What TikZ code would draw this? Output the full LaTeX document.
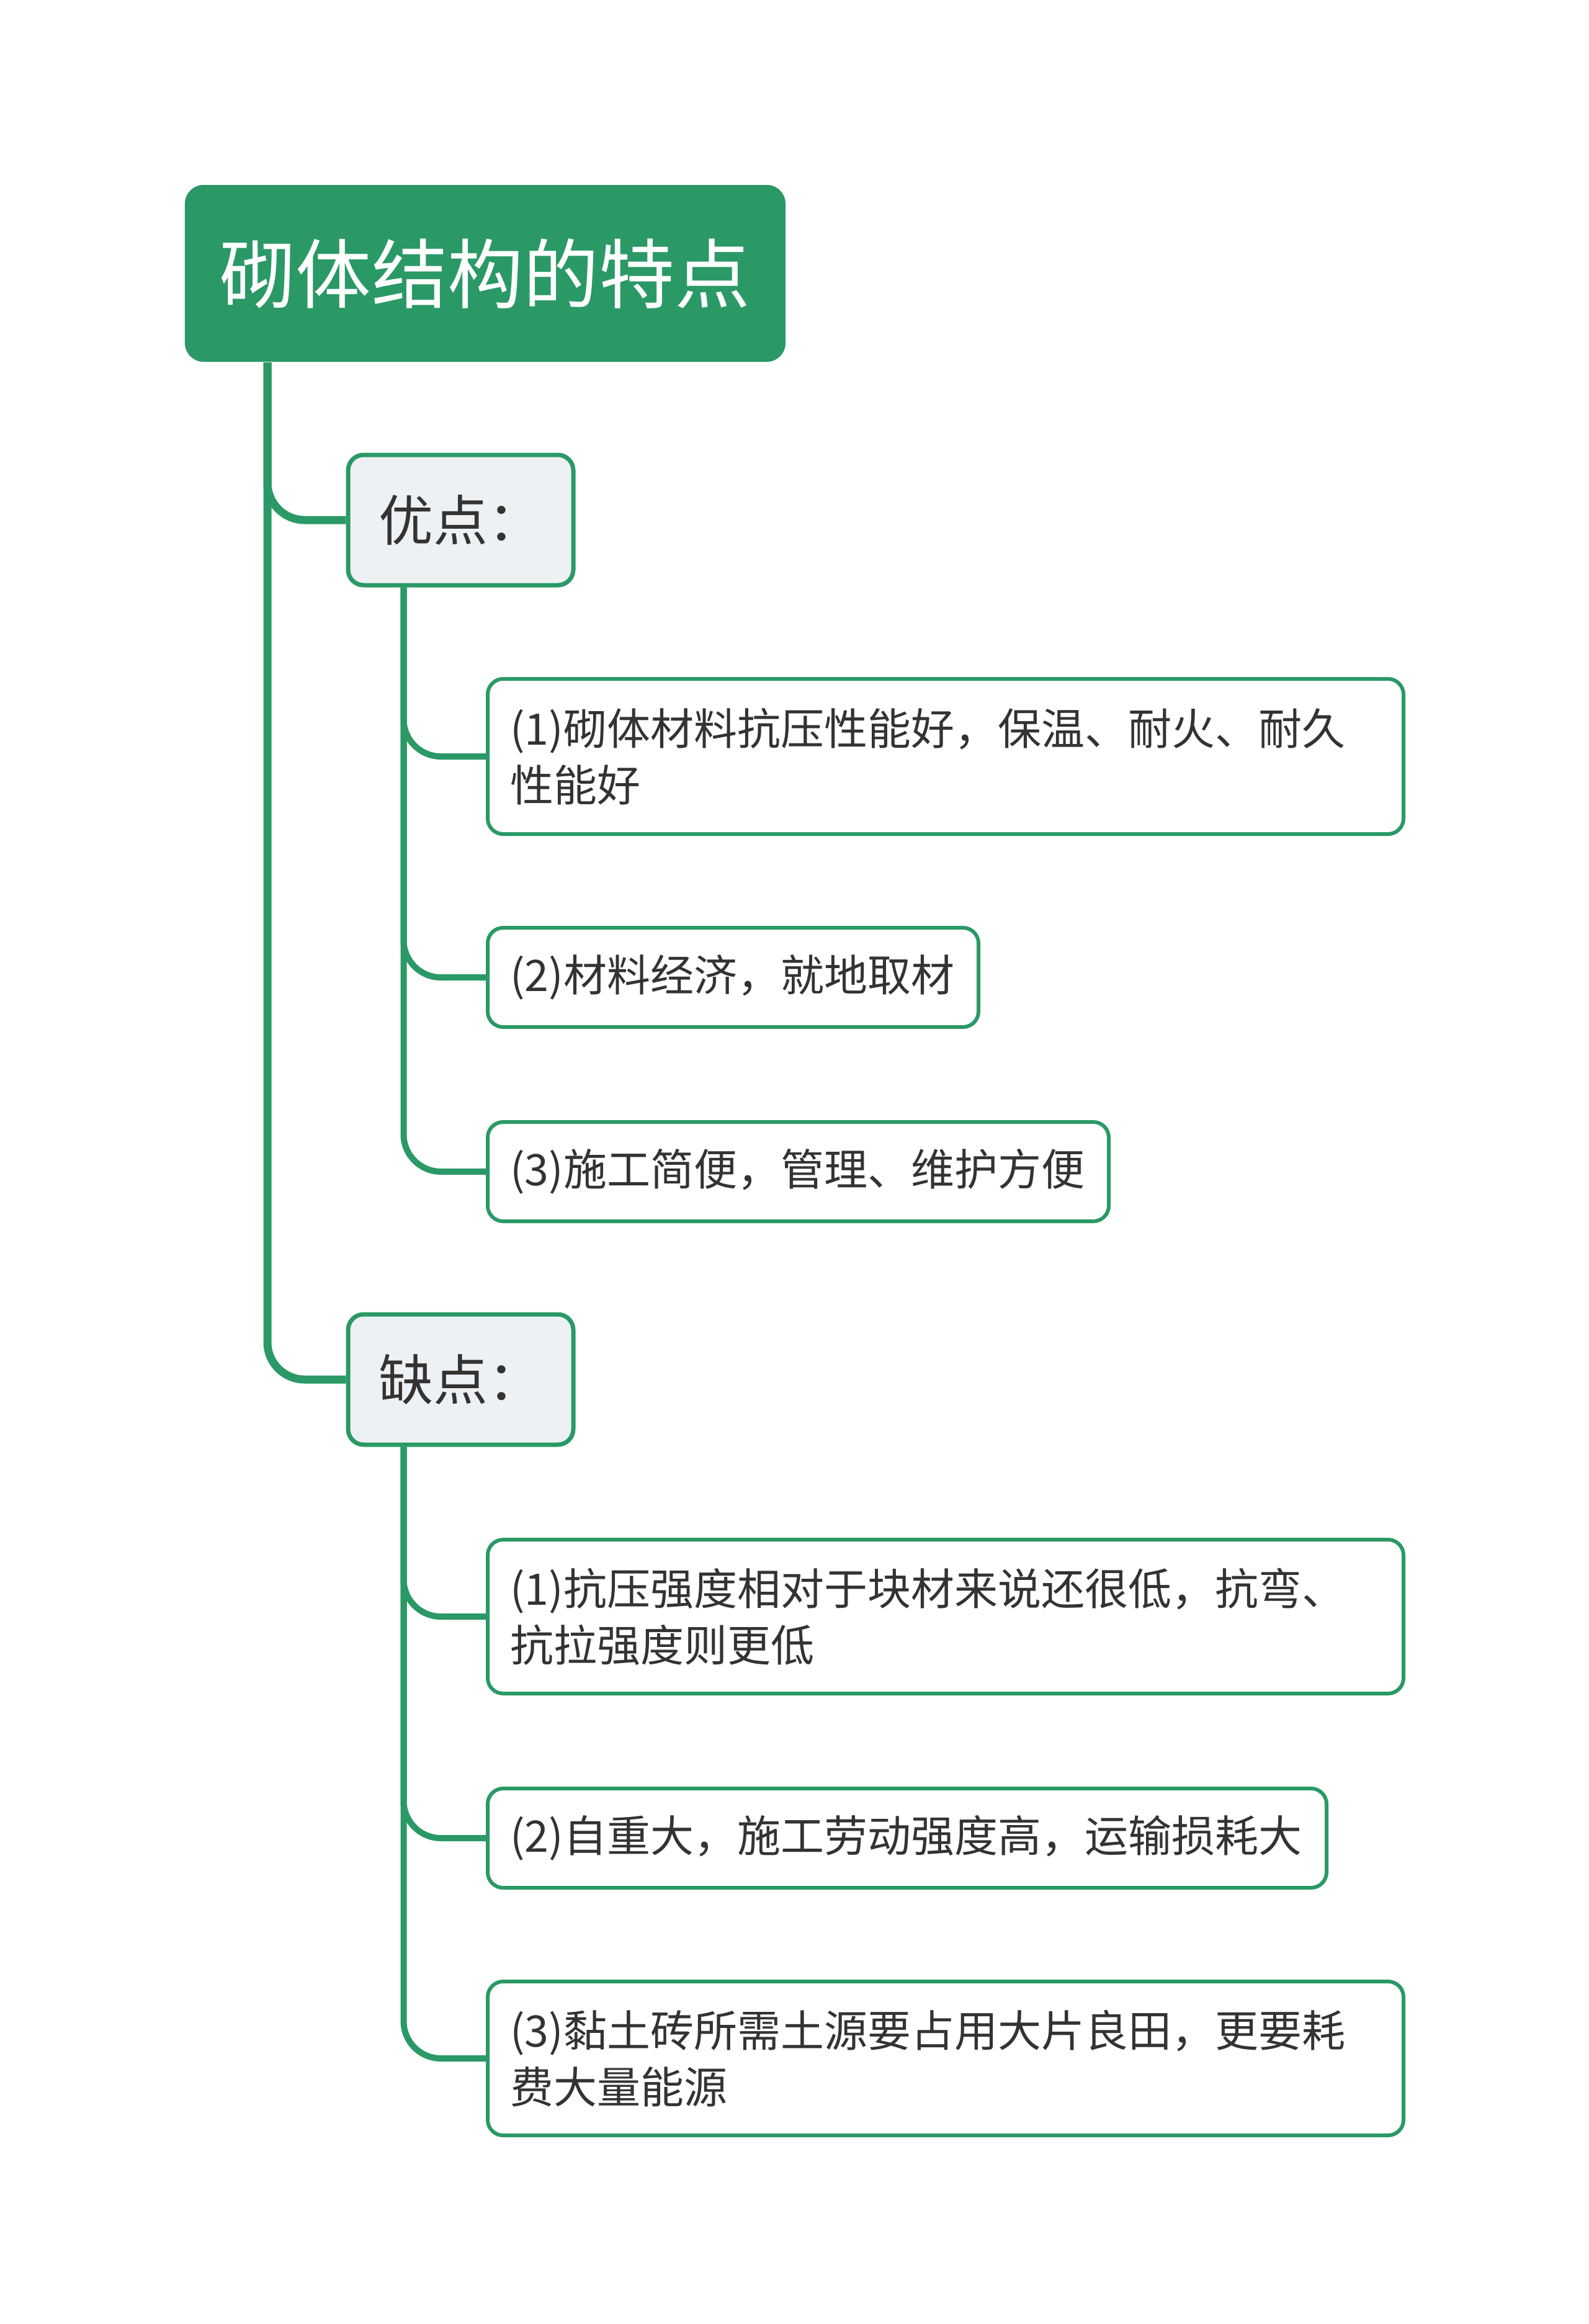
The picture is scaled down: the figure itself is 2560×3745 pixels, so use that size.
\documentclass[tikz,border=0pt]{standalone}
\usepackage{fontspec}
\setmainfont{Noto Sans CJK SC}
\usetikzlibrary{backgrounds}
\definecolor{mgreen}{HTML}{2A9966}
\definecolor{lgray}{HTML}{EEF1F4}
\definecolor{tgray}{HTML}{333333}
\begin{document}
\begin{tikzpicture}[x=0.2pt,y=-0.2pt,
  rootbox/.style={fill=mgreen, rounded corners=6pt, text=white,
    font=\fontsize{24.4}{30}\selectfont, minimum width=193.6pt, minimum height=57pt, inner sep=0pt},
  catbox/.style={fill=lgray, draw=mgreen, line width=1.4pt, rounded corners=5pt, text=tgray,
    font=\fontsize{17.6}{21}\selectfont, minimum width=72.6pt, minimum height=42pt, inner sep=0pt},
  leafbox/.style={fill=white, draw=mgreen, line width=1.2pt, rounded corners=5pt, text=tgray,
    font=\fontsize{14}{18.2}\selectfont, align=left, inner xsep=7.2pt, inner ysep=0pt,
    minimum height=32pt, anchor=west},
  trunk/.style={draw=mgreen, line width=2.6pt, rounded corners=12pt},
  branch/.style={draw=mgreen, line width=2pt, rounded corners=12pt}]
\useasboundingbox (0,0) rectangle (2560,3745);

\node[rootbox] (root) at (782,440.5) {砌体结构的特点};
\node[catbox] (yd) at (742.5,838) {优点：};
\node[catbox] (qd) at (742.5,2223) {缺点：};

\node[leafbox, text width=280.8pt, minimum height=50pt] (a1) at (783,1219) {(1)砌体材料抗压性能好，保温、耐火、耐久\\性能好};
\node[leafbox, text width=143.8pt] (a2) at (783,1575) {(2)材料经济，就地取材};
\node[leafbox, text width=185.8pt] (a3) at (783,1888) {(3)施工简便，管理、维护方便};

\node[leafbox, text width=280.8pt, minimum height=49.6pt] (b1) at (783,2605) {(1)抗压强度相对于块材来说还很低，抗弯、\\抗拉强度则更低};
\node[leafbox, text width=256pt] (b2) at (783,2962) {(2)自重大，施工劳动强度高，运输损耗大};
\node[leafbox, text width=280.8pt, minimum height=49.6pt] (b3) at (783,3317) {(3)黏土砖所需土源要占用大片良田，更要耗\\费大量能源};

\begin{pgfonlayer}{background}
\draw[trunk] ([xshift=26.8pt]root.south west) |- (yd.west);
\draw[trunk] ([xshift=26.8pt]root.south west) |- (qd.west);
\draw[branch] ([xshift=18.6pt]yd.south west) |- (a1.west);
\draw[branch] ([xshift=18.6pt]yd.south west) |- (a2.west);
\draw[branch] ([xshift=18.6pt]yd.south west) |- (a3.west);
\draw[branch] ([xshift=18.6pt]qd.south west) |- (b1.west);
\draw[branch] ([xshift=18.6pt]qd.south west) |- (b2.west);
\draw[branch] ([xshift=18.6pt]qd.south west) |- (b3.west);
\end{pgfonlayer}
\end{tikzpicture}
\end{document}
